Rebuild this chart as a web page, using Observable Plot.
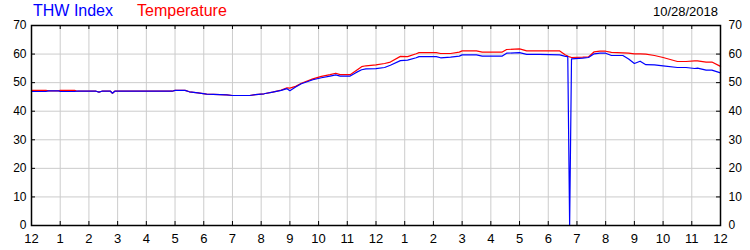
<!DOCTYPE html>
<html>
<head>
<meta charset="utf-8">
<script src="https://cdn.jsdelivr.net/npm/d3@7"></script>
<script src="https://cdn.jsdelivr.net/npm/@observablehq/plot@0.6"></script>
<style>
  html, body { margin: 0; padding: 0; background: #fff; }
  #wrap { position: relative; width: 750px; height: 250px; font-family: "Liberation Sans", Arial, sans-serif; }
  #wrap svg { position: absolute; left: 0; top: 0; }
  .lbl { position: absolute; white-space: nowrap; line-height: 1; }
</style>
</head>
<body>
<div id="wrap">
  <div class="lbl" style="left:33px; top:3px; font-size:16px; color:#0000ff;">THW Index</div>
  <div class="lbl" style="left:137px; top:3px; font-size:16px; color:#ff0000;">Temperature</div>
  <div class="lbl" style="right:32px; top:5px; font-size:13px; color:#000;">10/28/2018</div>
</div>
<script>
// time in hours since midnight
const hours = [0, 0.5, 0.6, 0.95, 1.0, 1.5, 1.6, 2.25, 2.35, 2.45, 2.75, 2.82, 2.9, 4.9, 5.0, 5.35, 5.5, 5.8, 6.1, 6.8, 7.0, 7.6, 7.8, 8.1, 8.4, 8.7, 8.9, 9.0, 9.2, 9.4, 9.8, 10.1, 10.4, 10.6, 10.75, 11.1, 11.3, 11.5, 11.65, 12.0, 12.3, 12.5, 12.85, 13.1, 13.4, 13.5, 14.1, 14.25, 14.6, 14.9, 15.0, 15.5, 15.7, 16.4, 16.55, 17.0, 17.25, 17.7, 18.4, 18.6, 18.68, 18.745, 18.81, 19.2, 19.4, 19.6, 19.8, 20.0, 20.2, 20.6, 20.8, 21.0, 21.2, 21.4, 21.7, 22.0, 22.5, 22.8, 23.1, 23.2, 23.5, 23.7, 24.0];
const thw = [46.9, 46.9, 47.1, 47.1, 46.9, 46.9, 47.0, 47.0, 46.7, 47.0, 47.0, 46.3, 47.0, 47.0, 47.3, 47.3, 46.8, 46.4, 46.0, 45.7, 45.5, 45.5, 45.8, 46.1, 46.7, 47.3, 47.9, 47.2, 48.5, 49.6, 51.0, 51.7, 52.3, 52.7, 52.3, 52.3, 53.5, 54.5, 54.8, 54.9, 55.3, 56.1, 57.7, 57.9, 58.7, 59.1, 59.1, 58.7, 58.9, 59.3, 59.7, 59.7, 59.3, 59.3, 60.3, 60.5, 59.9, 59.9, 59.7, 59.2, 59.1, 0, 58.3, 58.6, 58.8, 60.1, 60.3, 60.3, 59.5, 59.5, 58.3, 56.7, 57.5, 56.3, 56.2, 55.9, 55.3, 55.3, 54.95, 55.1, 54.4, 54.4, 53.4];
const temp = [47.3, 47.3, 47.1, 47.1, 47.3, 47.3, 47.0, 47.0, 46.7, 47.0, 47.0, 46.3, 47.0, 47.0, 47.3, 47.3, 46.8, 46.4, 46.0, 45.7, 45.5, 45.5, 45.8, 46.1, 46.7, 47.4, 48.2, 48.1, 48.7, 49.8, 51.3, 52.2, 52.8, 53.3, 52.8, 52.8, 54.2, 55.6, 55.9, 56.2, 56.7, 57.2, 59.2, 59.1, 60.1, 60.5, 60.5, 60.2, 60.2, 60.7, 61.1, 61.1, 60.7, 60.7, 61.6, 61.8, 61.1, 61.1, 61.1, 59.7, 59.3, 59.0, 58.8, 58.9, 59.0, 60.8, 61.0, 61.0, 60.6, 60.45, 60.3, 60.1, 60.1, 60.0, 59.5, 58.8, 57.4, 57.4, 57.6, 57.6, 57.2, 57.2, 55.7];
const hourTicks = d3.range(0, 25);
const hourLabels = ["12","1","2","3","4","5","6","7","8","9","10","11","12","1","2","3","4","5","6","7","8","9","10","11","12"];
const yTicks = [0, 10, 20, 30, 40, 50, 60, 70];

const chart = Plot.plot({
  width: 750,
  height: 250,
  marginTop: 25,
  marginBottom: 25,
  marginLeft: 31,
  marginRight: 30,
  style: { fontFamily: "'Liberation Sans', Arial, sans-serif", color: "#000", background: "transparent" },
  x: { type: "linear", domain: [0, 24] },
  y: { domain: [0, 70] },
  marks: [
    Plot.gridX(hourTicks, { stroke: "#cccccc", strokeOpacity: 1 }),
    Plot.gridY(yTicks, { stroke: "#cccccc", strokeOpacity: 1 }),
    Plot.line(hours, { x: hours, y: temp, stroke: "#ff0000", strokeWidth: 1.2 }),
    Plot.line(hours, { x: hours, y: thw, stroke: "#0000ff", strokeWidth: 1.2 }),
    Plot.frame({ stroke: "#000", strokeWidth: 1.5 }),
    // inward ticks
    Plot.tickX(hourTicks, { x: d => d, stroke: "#000", insetTop: 196 }),
    Plot.tickX(hourTicks, { x: d => d, stroke: "#000", insetBottom: 196 }),
    Plot.tickY(yTicks, { y: d => d, stroke: "#000", insetRight: 685 }),
    Plot.tickY(yTicks, { y: d => d, stroke: "#000", insetLeft: 685 }),
    Plot.axisX(hourTicks, { anchor: "bottom", tickSize: 0, tickPadding: 8, fontSize: 13, tickFormat: d => hourLabels[d] }),
    Plot.axisY(yTicks, { anchor: "left", tickSize: 0, tickPadding: 5, fontSize: 12 }),
    Plot.axisY(yTicks, { anchor: "right", tickSize: 0, tickPadding: 8, fontSize: 12 })
  ]
});
document.getElementById("wrap").prepend(chart);
</script>
</body>
</html>
